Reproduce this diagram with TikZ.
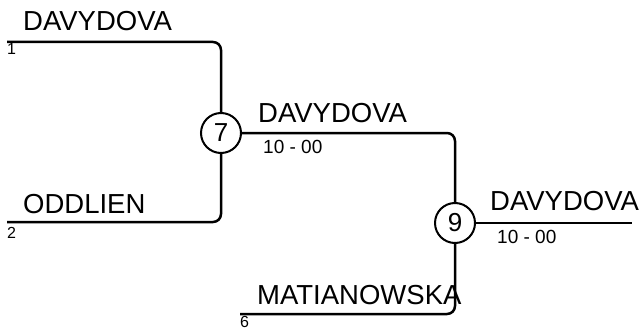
\documentclass[tikz,border=0pt]{standalone}
\usepackage{fontspec}
\setmainfont{Liberation Sans}
\begin{document}
\begin{tikzpicture}[x=1pt, y=-1pt,
    line/.style={line width=2.5pt, rounded corners=8pt},
    match/.style={circle, draw, line width=2pt, minimum size=40pt, inner sep=0pt, font=\fontsize{26}{26}\selectfont},
    player/.style={anchor=base west, inner sep=0pt, font=\fontsize{27.5}{27.5}\selectfont},
    score/.style={anchor=base west, inner sep=0pt, font=\fontsize{19}{19}\selectfont},
    seed/.style={anchor=base west, inner sep=0pt, font=\fontsize{16}{16}\selectfont}]

    % Fix the page to the size of the reference
    \useasboundingbox (0, 0) rectangle (642, 329);

    % Free ends of the lines
    \coordinate (P1) at (7, 42);
    \coordinate (P2) at (7, 222);
    \coordinate (P6) at (240, 314);
    \coordinate (W) at (632, 223);

    % The two matches
    \node[match] (M7) at (221, 133) {7};
    \node[match] (M9) at (455, 223) {9};

    % Draw the bracket lines
    \draw[line] (P1) -| (M7);
    \draw[line] (P2) -| (M7);
    \draw[line] (M7) -| (M9);
    \draw[line] (P6) -| (M9);
    \draw[line] (M9) -- (W);

    % Names above the lines
    \node[player] (N1) at (23, 31) {DAVYDOVA};
    \node[player] (N2) at (23, 213) {ODDLIEN};
    \node[player] (N7) at (258, 122) {DAVYDOVA};
    \node[player] (N6) at (257, 304) {MATIANOWSKA};
    \node[player] (N9) at (490, 210) {DAVYDOVA};

    % Scores below the lines
    \node[score] (S7) at (263, 153) {10 - 00};
    \node[score] (S9) at (497, 243) {10 - 00};

    % Seeds below the first lines
    \node[seed] (E1) at (7, 55) {1};
    \node[seed] (E2) at (7, 238) {2};
    \node[seed] (E6) at (240, 327) {6};

\end{tikzpicture}
\end{document}
